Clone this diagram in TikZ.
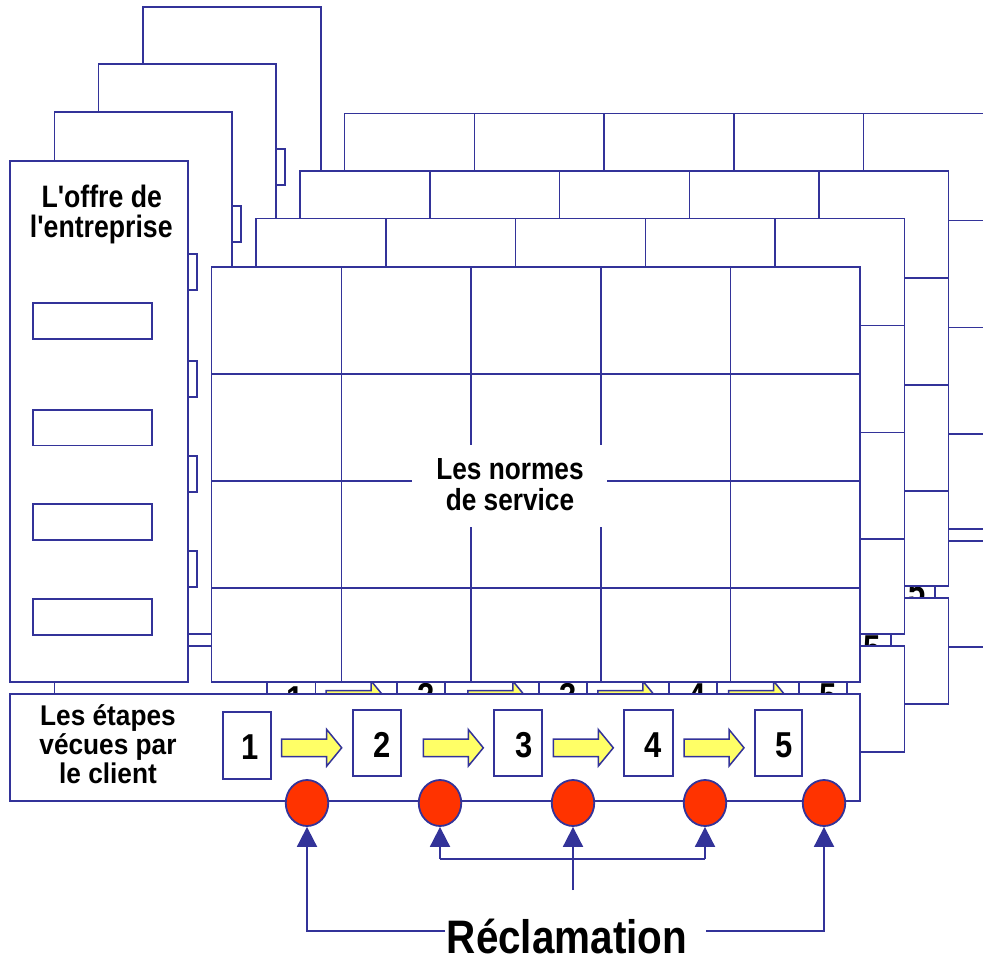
\documentclass[tikz,border=0pt]{standalone}
\usepackage{fontspec}
\newfontfamily\lab{Liberation Sans}[FakeStretch=0.86]
\newfontfamily\labw{Liberation Sans}[FakeStretch=0.92]
\usetikzlibrary{shapes.geometric,arrows.meta}
\definecolor{pblue}{HTML}{333399}
\definecolor{pred}{HTML}{FF3300}
\definecolor{pyel}{HTML}{FFFF66}
\tikzset{
  ln/.style={draw=pblue, line width=1.9pt},
  paper/.style={ln, fill=white},
  txt/.style={text=black, inner sep=0pt, anchor=base},
  fa/.style={font=\lab\bfseries\fontsize{31}{31}\selectfont},
  fb/.style={font=\lab\bfseries\fontsize{30.5}{30.5}\selectfont},
  fc/.style={font=\labw\bfseries\fontsize{28.5}{28.5}\selectfont},
  fd/.style={font=\lab\bfseries\fontsize{36}{36}\selectfont},
  fe/.style={font=\lab\bfseries\fontsize{47}{47}\selectfont},
  yarrow/.style={draw=pblue, line width=1.5pt, fill=pyel, line join=miter},
  circ/.style={ellipse, draw=pblue, line width=1.8pt, fill=pred, minimum width=42.5pt, minimum height=46pt, inner sep=0pt},
  conn/.style={draw=pblue, line width=1.9pt},
  tip/.style={conn, -{Triangle[width=20pt,length=20pt]}}
}
% #1 shift, #2 name prefix, #3 = 1 to print the labels
\newcommand\drawlayer[3]{%
\begin{scope}[shift={#1}, name prefix=#2-]
  % offer column
  \draw[paper] (10,160.7) rectangle (187.7,682.3);
  \ifnum#3=1
  \node[txt, fa] (offer1) at (101.7,207.3) {L'offre de};
  \node[txt, fa] (offer2) at (101.3,237.3) {l'entreprise};
  \fi
  \draw[paper] (33.3,302.7) rectangle (152.3,338.7);
  \draw[paper] (33.3,409.7) rectangle (152.3,445.5);
  \draw[paper] (33.3,504.3) rectangle (152.3,540.3);
  \draw[paper] (33.3,599.3) rectangle (152.3,635.3);
  % grid
  \draw[paper] (211.5,267) rectangle (860,682.3);
  \foreach \x in {341.5,471,601,730.5} \draw[ln] (\x,267) -- (\x,682.3);
  \foreach \y in {374,481,587.7} \draw[ln] (211.5,\y) -- (860,\y);
  \ifnum#3=1
  \fill[white] (412,445) rectangle (607,527);
  \node[txt, fb] (norm1) at (510,479.3) {Les normes};
  \node[txt, fb] (norm2) at (510,510) {de service};
  \fi
  % steps bar
  \draw[paper] (10,694.3) rectangle (860,800.7);
  \ifnum#3=1
  \node[txt, fc] (step1) at (108,725) {Les étapes};
  \node[txt, fc] (step2) at (108,754) {vécues par};
  \node[txt, fc] (step3) at (108,783) {le client};
  \fi
  \draw[paper] (222.7,712.3) rectangle (271,778.7);
  \draw[paper] (352.7,710) rectangle (400.7,776);
  \draw[paper] (494.3,710) rectangle (542.3,776);
  \draw[paper] (624.3,710) rectangle (672.7,776);
  \draw[paper] (754.7,710) rectangle (802.3,776);
  \node[txt, fd] (n1) at (250.5,759.5) {1};
  \node[txt, fd] (n2) at (382,757) {2};
  \node[txt, fd] (n3) at (524,757) {3};
  \node[txt, fd] (n4) at (653,757) {4};
  \node[txt, fd] (n5) at (784,757) {5};
  \foreach \t in {281.7,423.3,553.3,684}
    \draw[yarrow] (\t,739) -- (\t+45,739) -- (\t+45,729.5) -- (\t+60,747.8)
      -- (\t+45,766.1) -- (\t+45,756.6) -- (\t,756.6) -- cycle;
\end{scope}}
\begin{document}
\begin{tikzpicture}[x=1pt,y=-1pt]
\useasboundingbox (0,0) rectangle (983,958);
\clip (0,0) rectangle (983,958);
\fill[white] (0,0) rectangle (983,958);
\drawlayer{(133,-153.5)}{L4}{0}
\drawlayer{(88.5,-96.3)}{L3}{0}
\drawlayer{(44.5,-48.5)}{L2}{0}
\drawlayer{(0,0)}{L1}{1}
% complaint circles
\node[circ] (c1) at (307,803) {};
\node[circ] (c2) at (440,803) {};
\node[circ] (c3) at (573,803) {};
\node[circ] (c4) at (705,803) {};
\node[circ] (c5) at (824,803) {};
\node[txt, fe] (recl) at (567,953) {Réclamation};
\coordinate (lL) at (445,931);
\coordinate (lR) at (706,931);
\coordinate (mL) at (440,859);
\coordinate (mR) at (705,859);
\coordinate (m0) at (573,890);
\draw[tip] (lL) -| (c1.south);
\draw[tip] (lR) -| (c5.south);
\draw[conn] (mL) -- (mR);
\draw[tip] (mL) -- (c2.south);
\draw[tip] (mR) -- (c4.south);
\draw[tip] (m0) -- (c3.south);
\end{tikzpicture}
\end{document}
